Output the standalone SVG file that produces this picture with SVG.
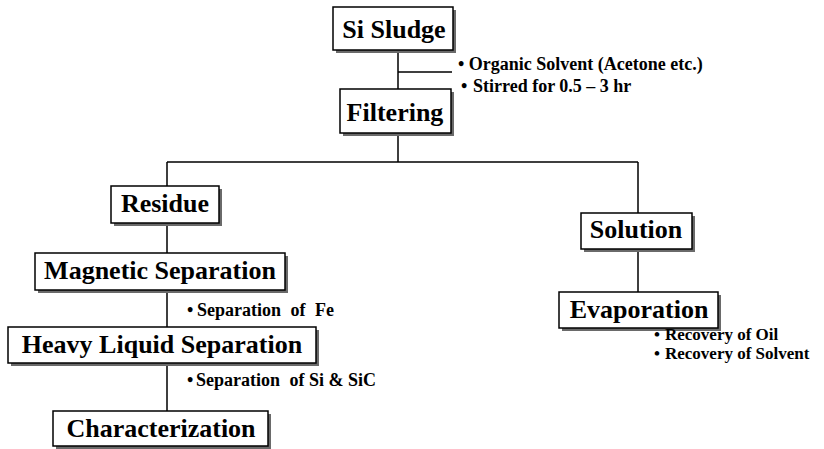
<svg xmlns="http://www.w3.org/2000/svg" width="824" height="449" viewBox="0 0 824 449">
<style>
.bg{fill:#ffffff}
.shadow{fill:#6a6a6a}
.box{fill:#ffffff;stroke:#000000;stroke-width:1.5}
.lbl{font-family:"Liberation Serif","Times New Roman",serif;font-weight:bold;font-size:26px;fill:#000;text-anchor:middle}
.note{font-family:"Liberation Serif","Times New Roman",serif;font-weight:bold;font-size:18px;fill:#000}
.small{font-size:17px}
.line{stroke:#000;stroke-width:1.5;fill:none}
</style>
<rect class="bg" x="0" y="0" width="824" height="449"/>
<g id="connectors">
<path class="line" d="M398,50 V89 M398,72 H452 M398,133 V162 M167,162 H638 M167,162 V186 M167,223 V253 M167,290 V327 M167,363 V411 M638,162 V213 M638,249 V292"/>
</g>
<g id="si-sludge">
<rect class="shadow" x="336" y="10" width="120" height="43"/>
<rect class="box" x="333" y="7" width="120" height="43"/>
<text class="lbl" x="394" y="38">Si Sludge</text>
</g>
<g id="filtering">
<rect class="shadow" x="343" y="92" width="111" height="44"/>
<rect class="box" x="340" y="89" width="111" height="44"/>
<text class="lbl" x="395" y="121">Filtering</text>
</g>
<g id="residue">
<rect class="shadow" x="114" y="189" width="108" height="37"/>
<rect class="box" x="111" y="186" width="108" height="37"/>
<text class="lbl" x="165" y="212">Residue</text>
</g>
<g id="solution">
<rect class="shadow" x="584" y="216" width="111" height="36"/>
<rect class="box" x="581" y="213" width="111" height="36"/>
<text class="lbl" x="636" y="238">Solution</text>
</g>
<g id="magnetic-separation">
<rect class="shadow" x="38" y="256" width="250" height="37"/>
<rect class="box" x="35" y="253" width="250" height="37"/>
<text class="lbl" x="160" y="279">Magnetic Separation</text>
</g>
<g id="evaporation">
<rect class="shadow" x="562" y="295" width="159" height="36"/>
<rect class="box" x="559" y="292" width="159" height="36"/>
<text class="lbl" x="639" y="318">Evaporation</text>
</g>
<g id="heavy-liquid-separation">
<rect class="shadow" x="11" y="330" width="308" height="36"/>
<rect class="box" x="8" y="327" width="308" height="36"/>
<text class="lbl" x="162" y="353">Heavy Liquid Separation</text>
</g>
<g id="characterization">
<rect class="shadow" x="56" y="414" width="215" height="35"/>
<rect class="box" x="53" y="411" width="215" height="35"/>
<text class="lbl" x="161" y="437">Characterization</text>
</g>
<g id="notes">
<text class="note" x="458" y="70">• Organic Solvent (Acetone etc.)</text>
<text class="note" x="461" y="92">•<tspan x="473">Stirred for 0.5 – 3 hr</tspan></text>
<text class="note" x="187" y="316">•<tspan x="197">Separation <tspan dx="5">of</tspan> <tspan dx="5">Fe</tspan></tspan></text>
<text class="note" x="187" y="386">•<tspan x="196">Separation <tspan dx="5">of</tspan> Si &amp; SiC</tspan></text>
<text class="note small" x="654" y="340">•<tspan x="665">Recovery of Oil</tspan></text>
<text class="note small" x="654" y="359">•<tspan x="665">Recovery of Solvent</tspan></text>
</g>
</svg>
